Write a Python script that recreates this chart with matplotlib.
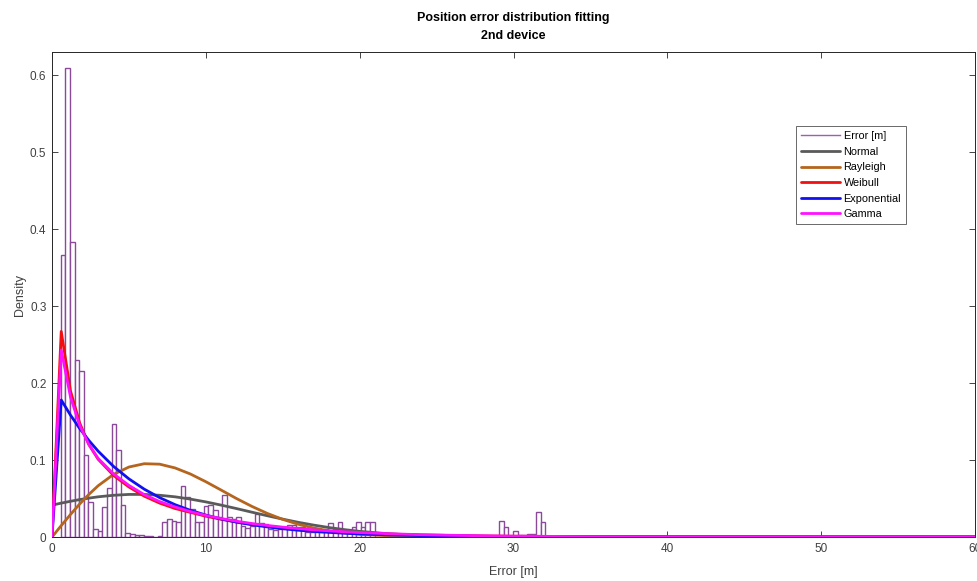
import matplotlib
matplotlib.use("Agg")
import matplotlib.pyplot as plt
from matplotlib.lines import Line2D
import numpy as np

plt.rcParams['font.family'] = ['Liberation Sans', 'DejaVu Sans']

# ---------------- data ----------------
bin_start = 0.57
bin_width = 0.30
hist_density = [
    0.366, 0.609, 0.383, 0.230, 0.216, 0.106, 0.045, 0.010, 0.008, 0.039,
    0.064, 0.147, 0.113, 0.042, 0.005, 0.004, 0.003, 0.002, 0.001, 0.001,
    0.000, 0.001, 0.019, 0.023, 0.021, 0.020, 0.066, 0.052, 0.037, 0.020,
    0.019, 0.040, 0.042, 0.035, 0.026, 0.054, 0.026, 0.024, 0.026, 0.014,
    0.012, 0.014, 0.030, 0.018, 0.017, 0.010, 0.009, 0.011, 0.013, 0.016,
    0.016, 0.013, 0.013, 0.007, 0.006, 0.006, 0.007, 0.010, 0.018, 0.011,
    0.020, 0.007, 0.007, 0.013, 0.020, 0.013, 0.020, 0.019, 0.000, 0.000,
    0.000, 0.000, 0.000, 0.000, 0.000, 0.000, 0.000, 0.000, 0.000, 0.000,
    0.000, 0.000, 0.000, 0.000, 0.000, 0.000, 0.000, 0.000, 0.000, 0.000,
    0.000, 0.000, 0.000, 0.000, 0.000, 0.021, 0.013, 0.000, 0.008, 0.003,
    0.003, 0.004, 0.004, 0.033, 0.019,
]

x_fit = [0, 0.6, 1.2, 1.8, 2.4, 3, 4, 5, 6, 7, 8, 9, 10, 11, 12, 13, 14, 15,
         16, 17, 18, 19, 20, 22, 24, 26, 28, 30, 35, 40, 50, 60]
normal_pdf = [0.0414, 0.0440, 0.0464, 0.0486, 0.0505, 0.0522, 0.0542, 0.0553,
              0.0553, 0.0542, 0.0522, 0.0492, 0.0456, 0.0414, 0.0369, 0.0322,
              0.0276, 0.0232, 0.0191, 0.0155, 0.0123, 0.0096, 0.0073, 0.0040,
              0.0020, 0.0010, 0.0004, 0.0002, 0.0, 0.0, 0.0, 0.0]
rayleigh_pdf = [0.0, 0.0148, 0.0292, 0.0429, 0.0554, 0.0666, 0.0813, 0.0909,
                0.0952, 0.0946, 0.0897, 0.0818, 0.0718, 0.0609, 0.0499, 0.0397,
                0.0306, 0.0229, 0.0166, 0.0117, 0.0080, 0.0054, 0.0035, 0.0014,
                0.0005, 0.0002, 0.0, 0.0, 0.0, 0.0, 0.0, 0.0]
weibull_pdf = [0.0, 0.267, 0.190, 0.148, 0.120, 0.101, 0.080, 0.065, 0.053,
               0.044, 0.037, 0.032, 0.027, 0.023, 0.0195, 0.0165, 0.014, 0.012,
               0.010, 0.0085, 0.0072, 0.0061, 0.0052, 0.0038, 0.0027, 0.0020,
               0.0014, 0.0010, 0.0005, 0.0002, 0.00005, 0.0]
exponential_pdf = [0.0, 0.178, 0.1584, 0.1409, 0.1253, 0.1115, 0.0917, 0.0755,
                   0.0621, 0.0511, 0.0420, 0.0346, 0.0285, 0.0234, 0.0193,
                   0.0159, 0.0131, 0.0107, 0.0088, 0.0073, 0.0060, 0.0049,
                   0.0041, 0.0027, 0.0019, 0.0013, 0.00085, 0.00058, 0.00022,
                   0.00008, 0.00001, 0.0]
gamma_pdf = [0.0, 0.243, 0.182, 0.145, 0.120, 0.102, 0.082, 0.067, 0.055,
             0.046, 0.039, 0.033, 0.028, 0.024, 0.0205, 0.0175, 0.015, 0.0128,
             0.011, 0.0093, 0.008, 0.0068, 0.0058, 0.0042, 0.0030, 0.0022,
             0.0016, 0.0011, 0.0005, 0.0002, 0.00003, 0.0]

x_ticks = [0, 10, 20, 30, 40, 50, 60]
y_ticks = [0, 0.1, 0.2, 0.3, 0.4, 0.5, 0.6]

# ---------------- figure ----------------
W, H = 977, 581
fig = plt.figure(figsize=(W / 100, H / 100), dpi=100)
ax = fig.add_axes([52 / W, 1 - 537 / H, (975 - 52) / W, (537 - 52) / H])

edges = bin_start + bin_width * np.arange(len(hist_density))
ax.bar(edges, hist_density, width=bin_width, align='edge', facecolor='white',
       edgecolor='#8A4A9A', linewidth=1.0, label='Error [m]', zorder=2)

curves = [
    (normal_pdf, '#5A5A5A', 'Normal'),
    (rayleigh_pdf, '#B5651D', 'Rayleigh'),
    (weibull_pdf, '#F20F0F', 'Weibull'),
    (exponential_pdf, '#1010F0', 'Exponential'),
    (gamma_pdf, '#FF10FF', 'Gamma'),
]
handles = [Line2D([], [], color='#9E5FAE', lw=1.0, label='Error [m]')]
for ys, c, lab in curves:
    ln, = ax.plot(x_fit, ys, color=c, lw=2.0, label=lab, zorder=3,
                  solid_joinstyle='round', solid_capstyle='round')
    handles.append(ln)

ax.set_xlim(0, 60)
ax.set_ylim(0, 0.63)
ax.set_xticks(x_ticks)
ax.set_yticks(y_ticks)
ax.set_xticklabels([str(t) for t in x_ticks])
ax.set_yticklabels(['0', '0.1', '0.2', '0.3', '0.4', '0.5', '0.6'])
ax.tick_params(direction='in', top=True, right=True, length=4, width=0.6,
               labelsize=8.5, colors='#262626', labelcolor='#404040', pad=4)
for s in ax.spines.values():
    s.set_color('#262626')
    s.set_linewidth(0.7)

ax.set_xlabel('Error [m]', fontsize=9, color='#404040', labelpad=8)
ax.set_ylabel('Density', fontsize=9, color='#404040', labelpad=3)
ax.set_title('Position error distribution fitting\n2nd device', fontsize=9,
             fontweight='bold', color='#000000', pad=9.5, linespacing=1.6)

leg = ax.legend(handles=handles, loc='upper left',
                bbox_to_anchor=(0.806, 0.847), fontsize=7.8, frameon=True,
                fancybox=False, edgecolor='#262626', handlelength=3.6,
                handletextpad=0.35, borderpad=0.45, labelspacing=0.52,
                borderaxespad=0)
leg.get_frame().set_linewidth(0.6)

fig.savefig('out.png', dpi=100)
